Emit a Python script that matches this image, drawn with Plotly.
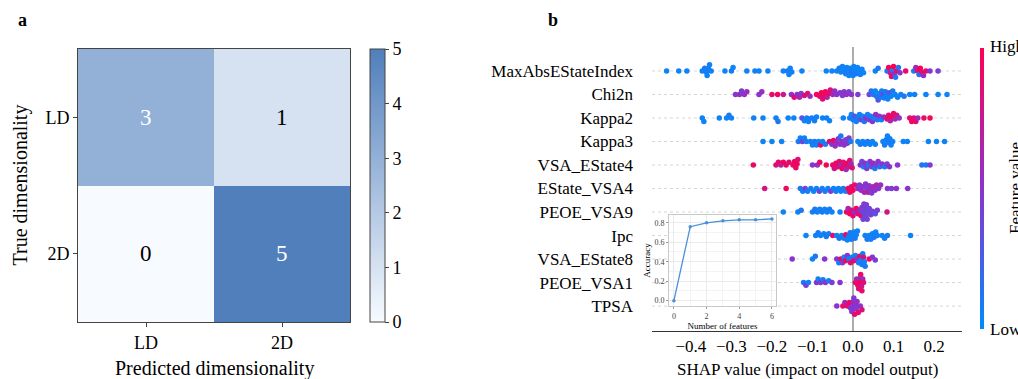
import numpy as np
import plotly.graph_objects as go

W, H = 1018, 379
FONT = "Liberation Serif, Times New Roman, serif"

# ---------------- Panel a data ----------------
PRED_LABELS = ["LD", "2D"]
TRUE_LABELS = ["LD", "2D"]
CONF = [[3, 1],
        [0, 5]]

# ---------------- Panel b data (SHAP value, normalised feature value) ----------------
FEATURES = ["MaxAbsEStateIndex", "Chi2n", "Kappa2", "Kappa3", "VSA_EState4", "EState_VSA4",
            "PEOE_VSA9", "Ipc", "VSA_EState8", "PEOE_VSA1", "TPSA"]

MAXABS = [(-0.46,.05),(-0.43,.05),(-0.41,.05),(-0.372,.05),(-0.366,.1),(-0.362,.05),(-0.36,.05),(-0.357,.1),(-0.354,.05),(-0.35,.05),
          (-0.316,.05),(-0.30,.1),(-0.296,.05),(-0.262,.05),(-0.242,.05),(-0.232,.05),(-0.21,.05),(-0.172,.05),(-0.162,.1),(-0.158,.05),
          (-0.155,.05),(-0.151,.05),(-0.126,.05),(-0.066,.05),(-0.052,.05),(-0.04,.05),(-0.034,.1),(-0.03,.05),(-0.026,.05),(-0.022,.05),
          (-0.018,.1),(-0.015,.05),(-0.012,.05),(-0.01,.05),(-0.006,.05),(-0.003,.1),(0.0,.05),(0.002,.05),(0.005,.05),(0.008,.1),
          (0.011,.05),(0.014,.05),(0.018,.05),(0.022,.05),(0.026,.05),(0.055,.05),(0.062,.1),(0.084,.1),(0.088,.95),(0.092,.7),
          (0.095,.9),(0.098,.1),(0.1,1.0),(0.102,.6),(0.105,.1),(0.108,.85),(0.112,.15),(0.116,.5),(0.13,.9),(0.15,.1),
          (0.155,.6),(0.16,.9),(0.163,.15),(0.166,1.0),(0.17,.85),(0.174,.55),(0.18,.9),(0.19,.5),(0.21,.45)]

CHI2N = [(-0.29,.5),(-0.28,.55),(-0.275,.45),(-0.268,.5),(-0.262,.6),(-0.232,.5),(-0.225,.55),(-0.2,.9),(-0.186,.95),(-0.172,.75),
         (-0.152,.5),(-0.145,.9),(-0.138,.55),(-0.132,.6),(-0.128,.45),(-0.12,.85),(-0.112,.9),(-0.106,.55),(-0.09,.95),(-0.082,.9),
         (-0.078,1.0),(-0.075,.85),(-0.072,.9),(-0.068,.95),(-0.064,.7),(-0.06,.9),(-0.056,.85),(-0.05,.6),(-0.045,.55),(-0.04,.5),
         (-0.032,.5),(-0.026,.45),(-0.022,.5),(-0.016,.55),(-0.01,.45),(-0.004,.5),(0.012,.45),(0.04,.4),(0.045,.15),(0.05,.1),
         (0.055,.05),(0.058,.1),(0.062,.3),(0.065,.05),(0.068,.1),(0.071,.05),(0.074,.35),(0.077,.05),(0.08,.1),(0.083,.05),
         (0.086,.05),(0.09,.3),(0.094,.05),(0.098,.1),(0.104,.05),(0.11,.05),(0.118,.05),(0.126,.1),(0.14,.05),(0.152,.05),
         (0.18,.05),(0.21,.05),(0.232,.05)]

KAPPA2 = [(-0.372,.05),(-0.368,.05),(-0.33,.05),(-0.312,.05),(-0.306,.1),(-0.30,.05),(-0.245,.05),(-0.222,.05),(-0.19,.05),(-0.185,.1),
          (-0.16,.05),(-0.146,.05),(-0.126,.3),(-0.12,.05),(-0.114,.1),(-0.11,.05),(-0.102,.05),(-0.095,.1),(-0.09,.05),(-0.075,.05),
          (-0.065,.05),(-0.058,.05),(-0.024,.05),(-0.008,.1),(-0.004,.05),(0.0,.05),(0.004,.3),(0.008,.05),(0.012,.1),(0.016,.05),
          (0.02,.4),(0.024,.05),(0.028,.1),(0.032,.5),(0.036,.05),(0.04,.45),(0.044,.1),(0.048,.5),(0.052,.05),(0.056,.55),
          (0.06,.1),(0.065,.5),(0.07,.05),(0.076,.55),(0.084,.85),(0.088,.9),(0.092,.7),(0.096,.95),(0.1,.9),(0.104,.6),
          (0.108,.85),(0.114,.5),(0.14,.9),(0.145,.95),(0.15,.85),(0.155,.9),(0.16,.6),(0.175,.9),(0.19,.95)]

KAPPA3 = [(-0.222,.05),(-0.2,.05),(-0.176,.05),(-0.135,.1),(-0.13,.05),(-0.125,.4),(-0.12,.05),(-0.115,.1),(-0.105,.05),(-0.1,.05),
          (-0.095,.1),(-0.09,.05),(-0.085,.05),(-0.08,.9),(-0.075,.05),(-0.068,.1),(-0.058,.85),(-0.052,.5),(-0.048,.9),(-0.044,.55),
          (-0.04,.6),(-0.036,.45),(-0.032,.5),(-0.03,.1),(-0.026,.55),(-0.022,.5),(-0.018,.4),(-0.014,.5),(-0.01,.45),(-0.006,.1),
          (0.012,.05),(0.018,.1),(0.024,.05),(0.03,.05),(0.036,.1),(0.042,.05),(0.048,.05),(0.055,.05),(0.074,.05),(0.078,.1),
          (0.082,.05),(0.085,.05),(0.088,.1),(0.091,.05),(0.094,.05),(0.098,.05),(0.124,.05),(0.134,.05),(0.186,.05),(0.206,.05),
          (0.226,.05)]

VSA_ESTATE4 = [(-0.246,.9),(-0.19,.85),(-0.184,.9),(-0.178,.7),(-0.172,.95),(-0.165,.9),(-0.158,.85),(-0.148,.9),(-0.144,1.0),(-0.141,.9),
               (-0.138,.95),(-0.136,.85),(-0.1,.5),(-0.088,.55),(-0.082,.9),(-0.066,.95),(-0.05,.9),(-0.046,.8),(-0.042,.95),(-0.038,.85),
               (-0.034,.9),(-0.03,.6),(-0.027,.95),(-0.024,.85),(-0.02,.9),(-0.017,.55),(-0.014,.95),(-0.011,.8),(-0.008,.9),(-0.005,.6),
               (-0.002,.85),(0.018,.5),(0.022,.4),(0.026,.15),(0.03,.5),(0.034,.45),(0.038,.1),(0.042,.5),(0.046,.4),(0.05,.55),
               (0.054,.1),(0.058,.45),(0.062,.5),(0.066,.15),(0.072,.5),(0.078,.1),(0.084,.45),(0.09,.5),(0.11,.5),(0.17,.15),
               (0.18,.1),(0.19,.45)]

ESTATE_VSA4 = [(-0.218,.8),(-0.165,.95),(-0.13,.1),(-0.124,.05),(-0.118,.45),(-0.112,.05),(-0.104,.1),(-0.097,.05),(-0.09,.05),(-0.083,.4),
               (-0.076,.05),(-0.069,.1),(-0.062,.05),(-0.055,.45),(-0.048,.05),(-0.042,.1),(-0.036,.05),(-0.03,.05),(-0.024,.1),(-0.018,.05),
               (-0.012,.95),(-0.008,.9),(-0.004,.85),(0.0,1.0),(0.004,.9),(0.012,.5),(0.016,.45),(0.02,.55),(0.024,.5),(0.028,.6),
               (0.031,.5),(0.034,.45),(0.037,.7),(0.04,.5),(0.043,.55),(0.046,.45),(0.05,.6),(0.054,.5),(0.058,.65),(0.063,.5),
               (0.068,.55),(0.085,.5),(0.095,.45),(0.107,.5),(0.135,.5)]

PEOE_VSA9 = [(-0.172,.05),(-0.136,.05),(-0.128,.1),(-0.1,.05),(-0.094,.1),(-0.088,.05),(-0.082,.05),(-0.076,.1),(-0.07,.05),(-0.064,.05),
             (-0.058,.1),(-0.052,.05),(-0.032,.05),(-0.016,.9),(-0.012,.6),(-0.008,.95),(-0.004,.85),(0.0,.9),(0.004,.5),(0.008,.95),
             (0.012,.85),(0.016,.55),(0.02,.9),(0.022,.45),(0.024,.4),(0.025,.4),(0.027,.45),(0.028,.45),(0.029,.35),(0.03,.4),
             (0.031,.4),(0.032,.4),(0.033,.45),(0.035,.4),(0.036,.45),(0.037,.35),(0.04,.4),(0.044,.45),(0.048,.4),(0.055,.3),
             (0.06,.45),(0.084,.8)]

IPC = [(-0.116,.05),(-0.092,.05),(-0.086,.1),(-0.08,.05),(-0.072,.05),(-0.066,.1),(-0.06,.05),(-0.05,.9),(-0.04,.05),(-0.034,.1),
       (-0.028,.05),(-0.022,.05),(-0.018,.9),(-0.014,.05),(-0.01,.05),(-0.007,.1),(-0.004,.05),(-0.001,.05),(0.002,.05),(0.005,.1),
       (0.008,.05),(0.011,.05),(0.03,.05),(0.035,.1),(0.04,.05),(0.044,.05),(0.048,.05),(0.052,.1),(0.056,.05),(0.06,.05),
       (0.072,.05),(0.078,.05),(0.085,.1),(0.142,.05)]

VSA_ESTATE8 = [(-0.15,.5),(-0.1,.05),(-0.093,.1),(-0.07,.5),(-0.04,.5),(-0.035,.05),(-0.03,.9),(-0.026,.45),(-0.022,.05),(-0.018,.95),
               (-0.014,.5),(-0.01,.05),(-0.006,.85),(-0.002,.1),(0.002,.9),(0.006,.05),(0.01,.5),(0.014,.05),(0.017,.95),(0.02,.05),
               (0.022,.1),(0.024,.05),(0.026,.8),(0.028,.05),(0.03,.1),(0.04,.95),(0.048,.5),(0.055,.45)]

PEOE_VSA1 = [(-0.122,.1),(-0.116,.45),(-0.11,.05),(-0.09,.5),(-0.086,.05),(-0.08,.45),(-0.074,.1),(-0.068,.5),(-0.06,.05),(-0.052,.45),
             (-0.032,.5),(0.006,.9),(0.009,.6),(0.012,.95),(0.014,.85),(0.016,.9),(0.018,.55),(0.019,.9),(0.02,1.0),(0.021,.8),
             (0.022,.9),(0.024,.6),(0.026,.85)]

TPSA = [(-0.04,.5),(-0.025,.9),(-0.02,.6),(-0.014,.85),(-0.009,.95),(-0.006,.5),(-0.003,.45),(0.0,.5),(0.001,.55),(0.002,.45),
        (0.003,.5),(0.004,.9),(0.006,.5),(0.008,.45),(0.01,.55),(0.013,.9),(0.018,.5),(0.022,.85)]

ROWS = [MAXABS, CHI2N, KAPPA2, KAPPA3, VSA_ESTATE4, ESTATE_VSA4, PEOE_VSA9, IPC, VSA_ESTATE8, PEOE_VSA1, TPSA]

# ---------------- Inset data ----------------
N_FEATURES = [0, 1, 2, 3, 4, 5, 6]
ACCURACY = [0.0, 0.76, 0.80, 0.82, 0.83, 0.83, 0.84]

# ---------------- Layout geometry ----------------
def px_dom_x(a, b):
    return [a / W, b / W]

def px_dom_y(top, bottom):
    return [1 - bottom / H, 1 - top / H]

HM_X = px_dom_x(78, 350)
HM_Y = px_dom_y(49, 322)
SW_X = px_dom_x(652, 962)
SW_Y = px_dom_y(47, 331)
IN_X = px_dom_x(669, 776)
IN_Y = px_dom_y(215, 306)
SW_XRANGE = [-0.496, 0.269]
SW_YRANGE = [-1.06, 11.02]

px_per_x = (SW_X[1] - SW_X[0]) * W / (SW_XRANGE[1] - SW_XRANGE[0])
px_per_y = (SW_Y[1] - SW_Y[0]) * H / (SW_YRANGE[1] - SW_YRANGE[0])


def swarm_offsets(vals, d=3.6, step=0.9, maxoff=8.5):
    vals = np.asarray(vals, dtype=float)
    order = np.argsort(vals, kind="stable")
    cands = [0.0]
    k = 1
    while k * step <= maxoff:
        cands += [k * step, -k * step]
        k += 1
    placed = []
    offs = np.zeros(len(vals))
    for n, i in enumerate(order):
        x = vals[i] * px_per_x
        near = [(px, py) for px, py in placed if abs(px - x) < d]
        best = None
        for y in cands:
            yy = y if n % 2 == 0 else -y
            if all((px - x) ** 2 + (py - yy) ** 2 >= d * d for px, py in near):
                best = yy
                break
        if best is None:
            best = min(cands, key=lambda y: sum(1 for px, py in near if (px - x) ** 2 + (py - y) ** 2 < d * d))
        placed.append((x, best))
        offs[i] = best
    return offs

xs, ys, cs = [], [], []
nrows = len(FEATURES)
for r, row in enumerate(ROWS):
    pos = nrows - 1 - r
    sv = [p[0] for p in row]
    fv = [p[1] for p in row]
    offs = swarm_offsets(sv)
    xs += sv
    ys += list(pos + offs / px_per_y)
    cs += fv

fig = go.Figure()

# Panel a heatmap
fig.add_trace(go.Heatmap(z=CONF, x=[0, 1], y=[0, 1], coloraxis="coloraxis",
                         xaxis="x", yaxis="y", hoverinfo="skip"))

# Panel b beeswarm
fig.add_trace(go.Scatter(x=xs, y=ys, mode="markers", xaxis="x2", yaxis="y2",
                         marker=dict(size=5.5, color=cs, coloraxis="coloraxis2", line=dict(width=0)),
                         hoverinfo="skip", showlegend=False))

# Inset
fig.add_trace(go.Scatter(x=N_FEATURES, y=ACCURACY, mode="lines+markers", xaxis="x3", yaxis="y3",
                         line=dict(color="#4a90d9", width=1.3), marker=dict(size=3.5, color="#4a90d9"),
                         showlegend=False, hoverinfo="skip"))


def ann(x, y, text, size, **kw):
    d = dict(x=x / W, y=1 - y / H, xref="paper", yref="paper", text=text, showarrow=False,
             xanchor="center", yanchor="middle", font=dict(family=FONT, size=size, color="black"))
    d.update(kw)
    return d

annotations = []
for i in range(2):
    for j in range(2):
        v = CONF[i][j]
        annotations.append(dict(x=j, y=i, xref="x", yref="y", text=str(v), showarrow=False,
                                xanchor="center", yanchor="middle",
                                font=dict(family=FONT, size=23, color="white" if v >= 3 else "black")))

annotations += [
    ann(22, 20, "<b>a</b>", 18),
    ann(553, 20, "<b>b</b>", 18),
    ann(214, 368, "Predicted dimensionality", 20),
    ann(20, 185.5, "True dimensionality", 20, textangle=-90),
    ann(807, 369, "SHAP value (impact on model output)", 17),
    ann(988, 46, "High", 17, xanchor="left"),
    ann(988, 329, "Low", 17, xanchor="left"),
    ann(1015, 188, "Feature value", 17, textangle=-90),
]

shapes = []
for r in range(nrows):
    shapes.append(dict(type="line", xref="x2 domain", x0=0, x1=1, yref="y2", y0=r, y1=r,
                       line=dict(color="#cccccc", width=0.8, dash="dot"), layer="below"))
shapes.append(dict(type="line", xref="x2", x0=0, x1=0, yref="y2 domain", y0=0, y1=1,
                   line=dict(color="#999999", width=1.6), layer="below"))

fig.update_layout(
    width=W, height=H, margin=dict(l=0, r=0, t=0, b=0, autoexpand=False),
    paper_bgcolor="white", plot_bgcolor="white",
    font=dict(family=FONT, color="black"),
    showlegend=False,
    annotations=annotations, shapes=shapes,
    coloraxis=dict(colorscale=[[0, "#f7fbff"], [1, "#507fbb"]], cmin=0, cmax=5,
                   colorbar=dict(x=370 / W, xanchor="left", xpad=0, y=1 - 185.5 / H, yanchor="middle",
                                 len=273 / H, ypad=0, thickness=15, outlinecolor="#444", outlinewidth=1,
                                 ticks="outside", ticklen=4, tickcolor="#444", tickvals=[0, 1, 2, 3, 4, 5],
                                 tickfont=dict(family=FONT, size=18, color="black"))),
    coloraxis2=dict(colorscale=[[0, "#008bfb"], [0.5, "#8b33cf"], [1, "#ff0051"]], cmin=0, cmax=1,
                    colorbar=dict(x=980 / W, xanchor="left", xpad=0, y=1 - 188 / H, yanchor="middle",
                                  len=281 / H, ypad=0, thickness=4, outlinewidth=0,
                                  ticks="", showticklabels=False)),
    xaxis=dict(domain=HM_X, anchor="y", range=[-0.5, 1.5], tickvals=[0, 1], ticktext=PRED_LABELS,
               ticks="outside", ticklen=4, tickcolor="#444", showline=True, mirror=True, linecolor="#444",
               linewidth=1, showgrid=False, zeroline=False, automargin=False,
               tickfont=dict(family=FONT, size=18, color="black")),
    yaxis=dict(domain=HM_Y, anchor="x", range=[1.5, -0.5], tickvals=[0, 1], ticktext=TRUE_LABELS,
               ticks="outside", ticklen=4, tickcolor="#444", showline=True, mirror=True, linecolor="#444",
               linewidth=1, showgrid=False, zeroline=False, automargin=False,
               tickfont=dict(family=FONT, size=18, color="black")),
    xaxis2=dict(domain=SW_X, anchor="y2", range=SW_XRANGE, tickvals=[-0.4, -0.3, -0.2, -0.1, 0.0, 0.1, 0.2],
                tickformat=".1f", ticks="", showline=True, linecolor="#333", linewidth=1, automargin=False,
                showgrid=False, zeroline=False, tickfont=dict(family=FONT, size=17, color="black")),
    yaxis2=dict(domain=SW_Y, anchor="x2", range=SW_YRANGE, tickvals=list(range(nrows)),
                ticktext=FEATURES[::-1], ticks="", showline=False, showgrid=False, zeroline=False,
                automargin=False, ticklabelstandoff=18, tickfont=dict(family=FONT, size=17, color="black")),
    xaxis3=dict(domain=IN_X, anchor="y3", range=[-0.3, 6.25], tickvals=[0, 2, 4, 6], ticks="outside",
                ticklen=2, tickcolor="#999", showline=True, mirror=True, linecolor="#c8c8c8", linewidth=1,
                showgrid=True, gridcolor="#ebebeb", gridwidth=0.6, zeroline=False, automargin=False,
                minor=dict(dtick=1, showgrid=True, gridcolor="#f3f3f3", gridwidth=0.5),
                tickfont=dict(family=FONT, size=8, color="#444"),
                title=dict(text="Number of features", standoff=0, font=dict(family=FONT, size=9, color="black"))),
    yaxis3=dict(domain=IN_Y, anchor="x3", range=[-0.055, 0.88], tickvals=[0, 0.2, 0.4, 0.6, 0.8],
                tickformat=".1f", ticks="outside", ticklen=2, tickcolor="#999", showline=True, mirror=True,
                linecolor="#c8c8c8", linewidth=1, showgrid=True, gridcolor="#ebebeb", gridwidth=0.6,
                zeroline=False, automargin=False, minor=dict(dtick=0.1, showgrid=True, gridcolor="#f3f3f3", gridwidth=0.5),
                tickfont=dict(family=FONT, size=8, color="#444"),
                title=dict(text="Accuracy", standoff=2, font=dict(family=FONT, size=9, color="black"))),
)

fig.write_html("out.html", config={"displayModeBar": False},
               post_script="document.body.style.margin='0px';")
